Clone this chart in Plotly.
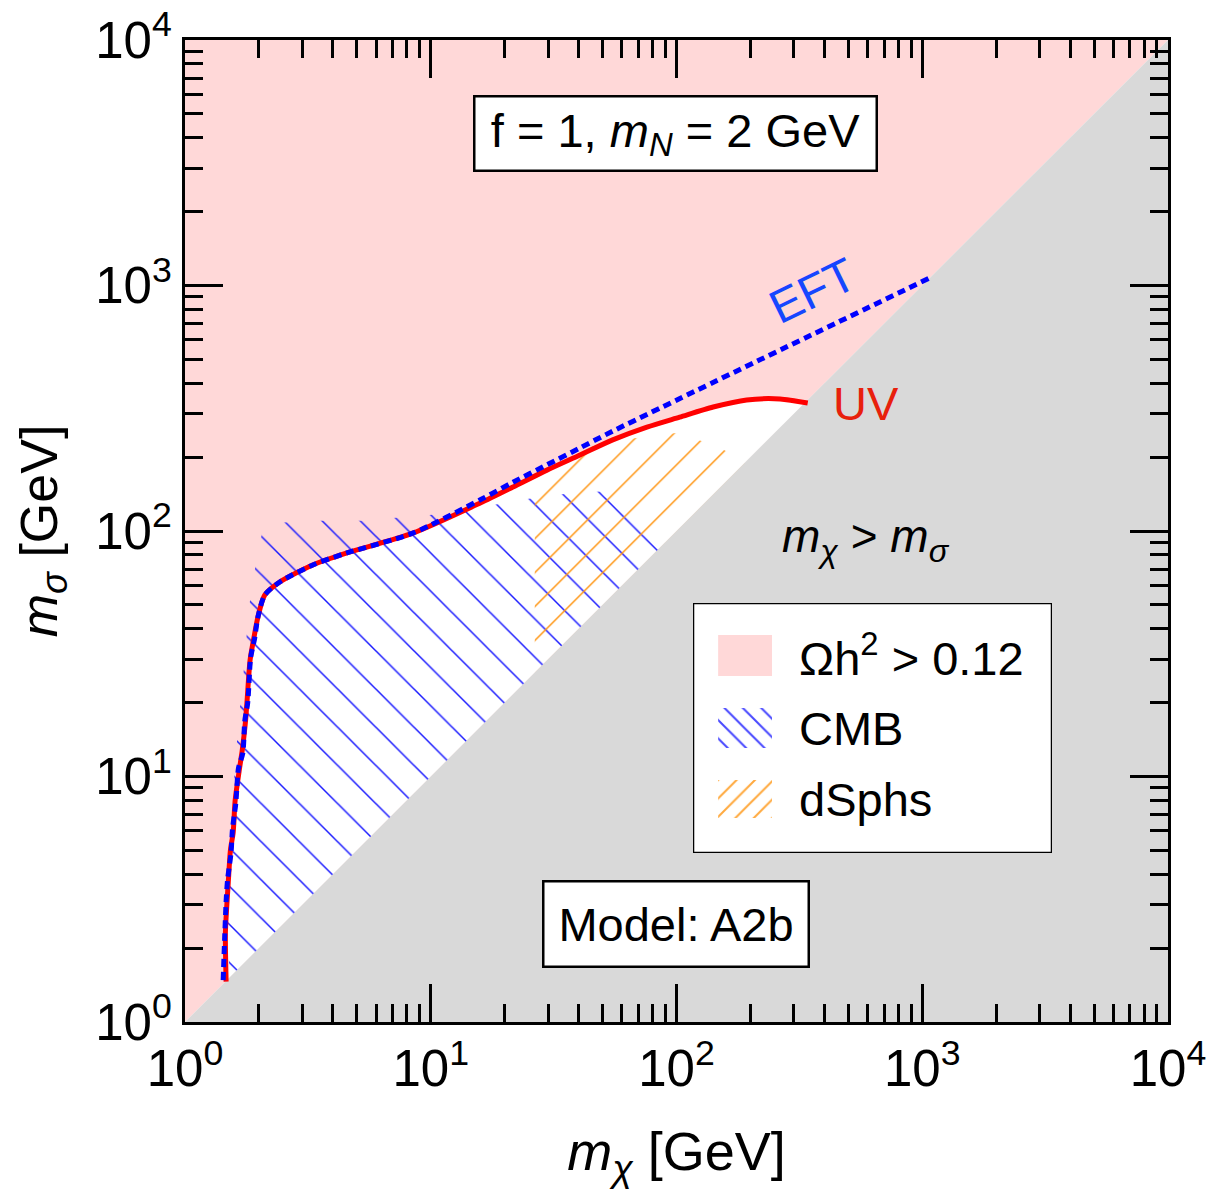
import plotly.graph_objects as go

# ---------------- data (GeV) ----------------
uv_mchi = [1.47, 1.46, 1.48, 1.50, 1.53, 1.57, 1.60, 1.66, 1.71, 1.76, 1.79, 1.84, 1.91,
           1.98, 2.11, 2.43, 3.31, 4.56, 8.45, 15.9, 21.6, 29.7, 40.5, 55.0, 75.8, 103.0,
           141.0, 193.0, 264.0, 342.0]
uv_msigma = [1.46, 2.3, 3.0, 3.7, 5.0, 5.9, 8.0, 10.5, 12.8, 16.5, 20.5, 29.8, 37.0,
             44.6, 54.8, 62.0, 72.7, 81.4, 98.0, 130.0, 151.0, 177.0, 204.0, 235.0, 265.0, 291.0,
             320.0, 342.0, 345.0, 332.0]

eft_mchi = [1.43, 1.45, 1.47, 1.49, 1.54, 1.56, 1.61, 1.65, 1.72, 1.75, 1.80, 1.85, 1.92,
            1.98, 2.11, 2.43, 3.31, 4.56, 8.45, 15.9, 21.6, 29.7, 40.5, 55.0, 1074.0]
eft_msigma = [1.48, 2.2, 3.1, 3.8, 4.9, 6.1, 7.8, 10.8, 12.5, 16.8, 20.0, 30.5, 36.5,
              44.6, 54.8, 62.0, 72.7, 81.4, 98.0, 134.0, 158.0, 186.0, 218.0, 255.0, 1074.0]

cmb_mchi = [1.52, 1.49, 1.50, 1.54, 1.57, 1.63, 1.66, 1.71, 1.79, 1.82, 1.89, 1.96, 2.06,
            2.46, 3.16, 5.44, 7.0, 9.0, 11.6, 18.6, 23.5, 30.0, 38.6, 49.6, 66.0, 98.0]
cmb_msigma = [1.52, 2.3, 3.68, 5.0, 8.6, 13.8, 17.8, 22.9, 37.7, 48.7, 62.0, 78.0, 98.5,
              108.0, 110.0, 110.0, 113.0, 115.0, 118.0, 129.0, 134.0, 139.0, 143.0, 145.0, 144.0, 98.0]

dsph_mchi = [26.5, 26.5, 32.6, 41.6, 66.6, 83.0, 100.0, 116.0, 137.0, 170.0, 190.0]
dsph_msigma = [26.5, 140.0, 208.0, 218.0, 238.0, 246.0, 251.0, 238.0, 228.0, 205.0, 190.0]

axis_min, axis_max = 1.0, 1.0e4
tick_vals = [1, 10, 100, 1000, 10000]
tick_text = ['10<sup>0</sup>', '10<sup>1</sup>', '10<sup>2</sup>', '10<sup>3</sup>', '10<sup>4</sup>']
minor_vals = [m * 10 ** k for k in range(4) for m in range(2, 10)]

legend_labels = ['Ωh<sup>2</sup> > 0.12', 'CMB', 'dSphs']

# ---------------- style ----------------
FONT = 'Liberation Sans, Arial, Helvetica, sans-serif'
PINK = '#ffd8d8'
GRAY = '#d9d9d9'
BLUE_HATCH = '#1a1aff'
ORANGE_HATCH = '#ff9410'

fig = go.Figure()

common = dict(mode='lines', line=dict(width=0), hoverinfo='skip', showlegend=False)

# region with too much relic abundance (above diagonal)
fig.add_trace(go.Scatter(x=[axis_min, axis_max, axis_min], y=[axis_min, axis_max, axis_max],
                         fill='toself', fillcolor=PINK, **common))
# allowed region between UV curve and diagonal
fig.add_trace(go.Scatter(x=uv_mchi + [uv_mchi[-1], uv_mchi[0]],
                         y=uv_msigma + [uv_mchi[-1], uv_mchi[0]],
                         fill='toself', fillcolor='white', **common))
# m_chi > m_sigma region
fig.add_trace(go.Scatter(x=[axis_min, axis_max, axis_max], y=[axis_min, axis_max, axis_min],
                         fill='toself', fillcolor=GRAY, **common))
# CMB hatch
fig.add_trace(go.Scatter(x=cmb_mchi, y=cmb_msigma, fill='toself', fillcolor='rgba(0,0,0,0)',
                         fillpattern=dict(shape='\\', fgcolor=BLUE_HATCH, bgcolor='rgba(0,0,0,0)',
                                          size=27, solidity=0.055, fgopacity=1, fillmode='overlay'),
                         **common))
# dSphs hatch
fig.add_trace(go.Scatter(x=dsph_mchi, y=dsph_msigma, fill='toself', fillcolor='rgba(0,0,0,0)',
                         fillpattern=dict(shape='/', fgcolor=ORANGE_HATCH, bgcolor='rgba(0,0,0,0)',
                                          size=24, solidity=0.06, fgopacity=1, fillmode='overlay'),
                         **common))
# UV curve
fig.add_trace(go.Scatter(x=uv_mchi, y=uv_msigma, mode='lines',
                         line=dict(color='#ff0000', width=5, shape='spline', smoothing=0.7),
                         hoverinfo='skip', showlegend=False))
# EFT curve
fig.add_trace(go.Scatter(x=eft_mchi, y=eft_msigma, mode='lines',
                         line=dict(color='#0000ff', width=5, dash='8px,5px', shape='spline', smoothing=0.7),
                         hoverinfo='skip', showlegend=False))

# ---------------- custom legend (on its own unit axes) ----------------
lg = dict(xaxis='x2', yaxis='y2', hoverinfo='skip', showlegend=False, mode='lines', line=dict(width=0))
fig.add_trace(go.Scatter(x=[0, 1, 1, 0], y=[0, 0, 1, 1], fill='toself', fillcolor='white', **lg))
sw_x = [0.07, 0.22, 0.22, 0.07]
fig.add_trace(go.Scatter(x=sw_x, y=[0.708, 0.708, 0.872, 0.872], fill='toself', fillcolor=PINK, **lg))
fig.add_trace(go.Scatter(x=sw_x, y=[0.42, 0.42, 0.58, 0.58], fill='toself', fillcolor='rgba(0,0,0,0)',
                         fillpattern=dict(shape='\\', fgcolor=BLUE_HATCH, bgcolor='rgba(0,0,0,0)',
                                          size=13, solidity=0.16, fgopacity=0.8, fillmode='overlay'), **lg))
fig.add_trace(go.Scatter(x=sw_x, y=[0.14, 0.14, 0.292, 0.292], fill='toself', fillcolor='rgba(0,0,0,0)',
                         fillpattern=dict(shape='/', fgcolor=ORANGE_HATCH, bgcolor='rgba(0,0,0,0)',
                                          size=13, solidity=0.16, fgopacity=0.8, fillmode='overlay'), **lg))

axis_common = dict(type='log', range=[0, 4], tickvals=tick_vals, ticktext=tick_text,
                   ticks='inside', ticklen=38, tickwidth=3, tickcolor='black',
                   showline=True, linewidth=3, linecolor='black', mirror='allticks',
                   showgrid=False, zeroline=False, automargin=False,
                   ticklabeloverflow='allow',
                   tickfont=dict(family=FONT, size=51, color='black'),
                   minor=dict(tickvals=minor_vals, ticks='inside', ticklen=18, tickwidth=3,
                              tickcolor='black', showgrid=False))

fig.update_layout(
    width=1212, height=1189,
    margin=dict(l=185, r=44, t=40, b=167),
    paper_bgcolor='white', plot_bgcolor='white',
    font=dict(family=FONT, color='black'),
    showlegend=False,
    xaxis=dict(**axis_common,
               title=dict(text='<i>m</i><sub><i>χ</i></sub> [GeV]', font=dict(family=FONT, size=54),
                          standoff=36)),
    yaxis=dict(**axis_common,
               title=dict(text='<i>m</i><sub><i>σ</i></sub> [GeV]', font=dict(family=FONT, size=52),
                          standoff=22)),
    xaxis2=dict(domain=[0.5168, 0.882], range=[0, 1], visible=False, anchor='y2', fixedrange=True),
    yaxis2=dict(domain=[0.1721, 0.4267], range=[0, 1], visible=False, anchor='x2', fixedrange=True),
)

# legend frame
fig.add_shape(type='rect', xref='x2', yref='y2', x0=0, x1=1, y0=0, y1=1,
              line=dict(color='black', width=2.5), layer='above')
for lab, yc in zip(legend_labels, [0.79, 0.496, 0.212]):
    fig.add_annotation(text=lab, xref='x2', yref='y2', x=0.29, y=yc, xanchor='left', yanchor='middle',
                       showarrow=False, font=dict(family=FONT, size=47, color='black'))

# text boxes
fig.add_annotation(text='f = 1, <i>m</i><sub><i>N</i></sub> = 2 GeV', xref='paper', yref='paper',
                   x=0.499, y=0.905, xanchor='center', yanchor='middle', showarrow=False,
                   font=dict(family=FONT, size=47, color='black'),
                   bgcolor='white', bordercolor='black', borderwidth=2.5, borderpad=0,
                   width=400, height=72)
fig.add_annotation(text='Model: A2b', xref='paper', yref='paper',
                   x=0.4995, y=0.0998, xanchor='center', yanchor='middle', showarrow=False,
                   font=dict(family=FONT, size=47, color='black'),
                   bgcolor='white', bordercolor='black', borderwidth=2.5, borderpad=0,
                   width=263, height=83)
fig.add_annotation(text='<i>m</i><sub><i>χ</i></sub> > <i>m</i><sub><i>σ</i></sub>', xref='paper', yref='paper',
                   x=0.693, y=0.491, xanchor='center', yanchor='middle', showarrow=False,
                   font=dict(family=FONT, size=46, color='black'))
fig.add_annotation(text='EFT', xref='paper', yref='paper', x=0.638, y=0.745,
                   xanchor='center', yanchor='middle', showarrow=False, textangle=-26,
                   font=dict(family=FONT, size=47, color='#1646ff'))
fig.add_annotation(text='UV', xref='paper', yref='paper', x=0.693, y=0.630,
                   xanchor='center', yanchor='middle', showarrow=False,
                   font=dict(family=FONT, size=47, color='#e8200c'))

# remove the browser's default 8px body margin so the figure fills the window exactly
fig.write_html('out.html', config={'displayModeBar': False},
               post_script="document.body.style.margin='0';")
